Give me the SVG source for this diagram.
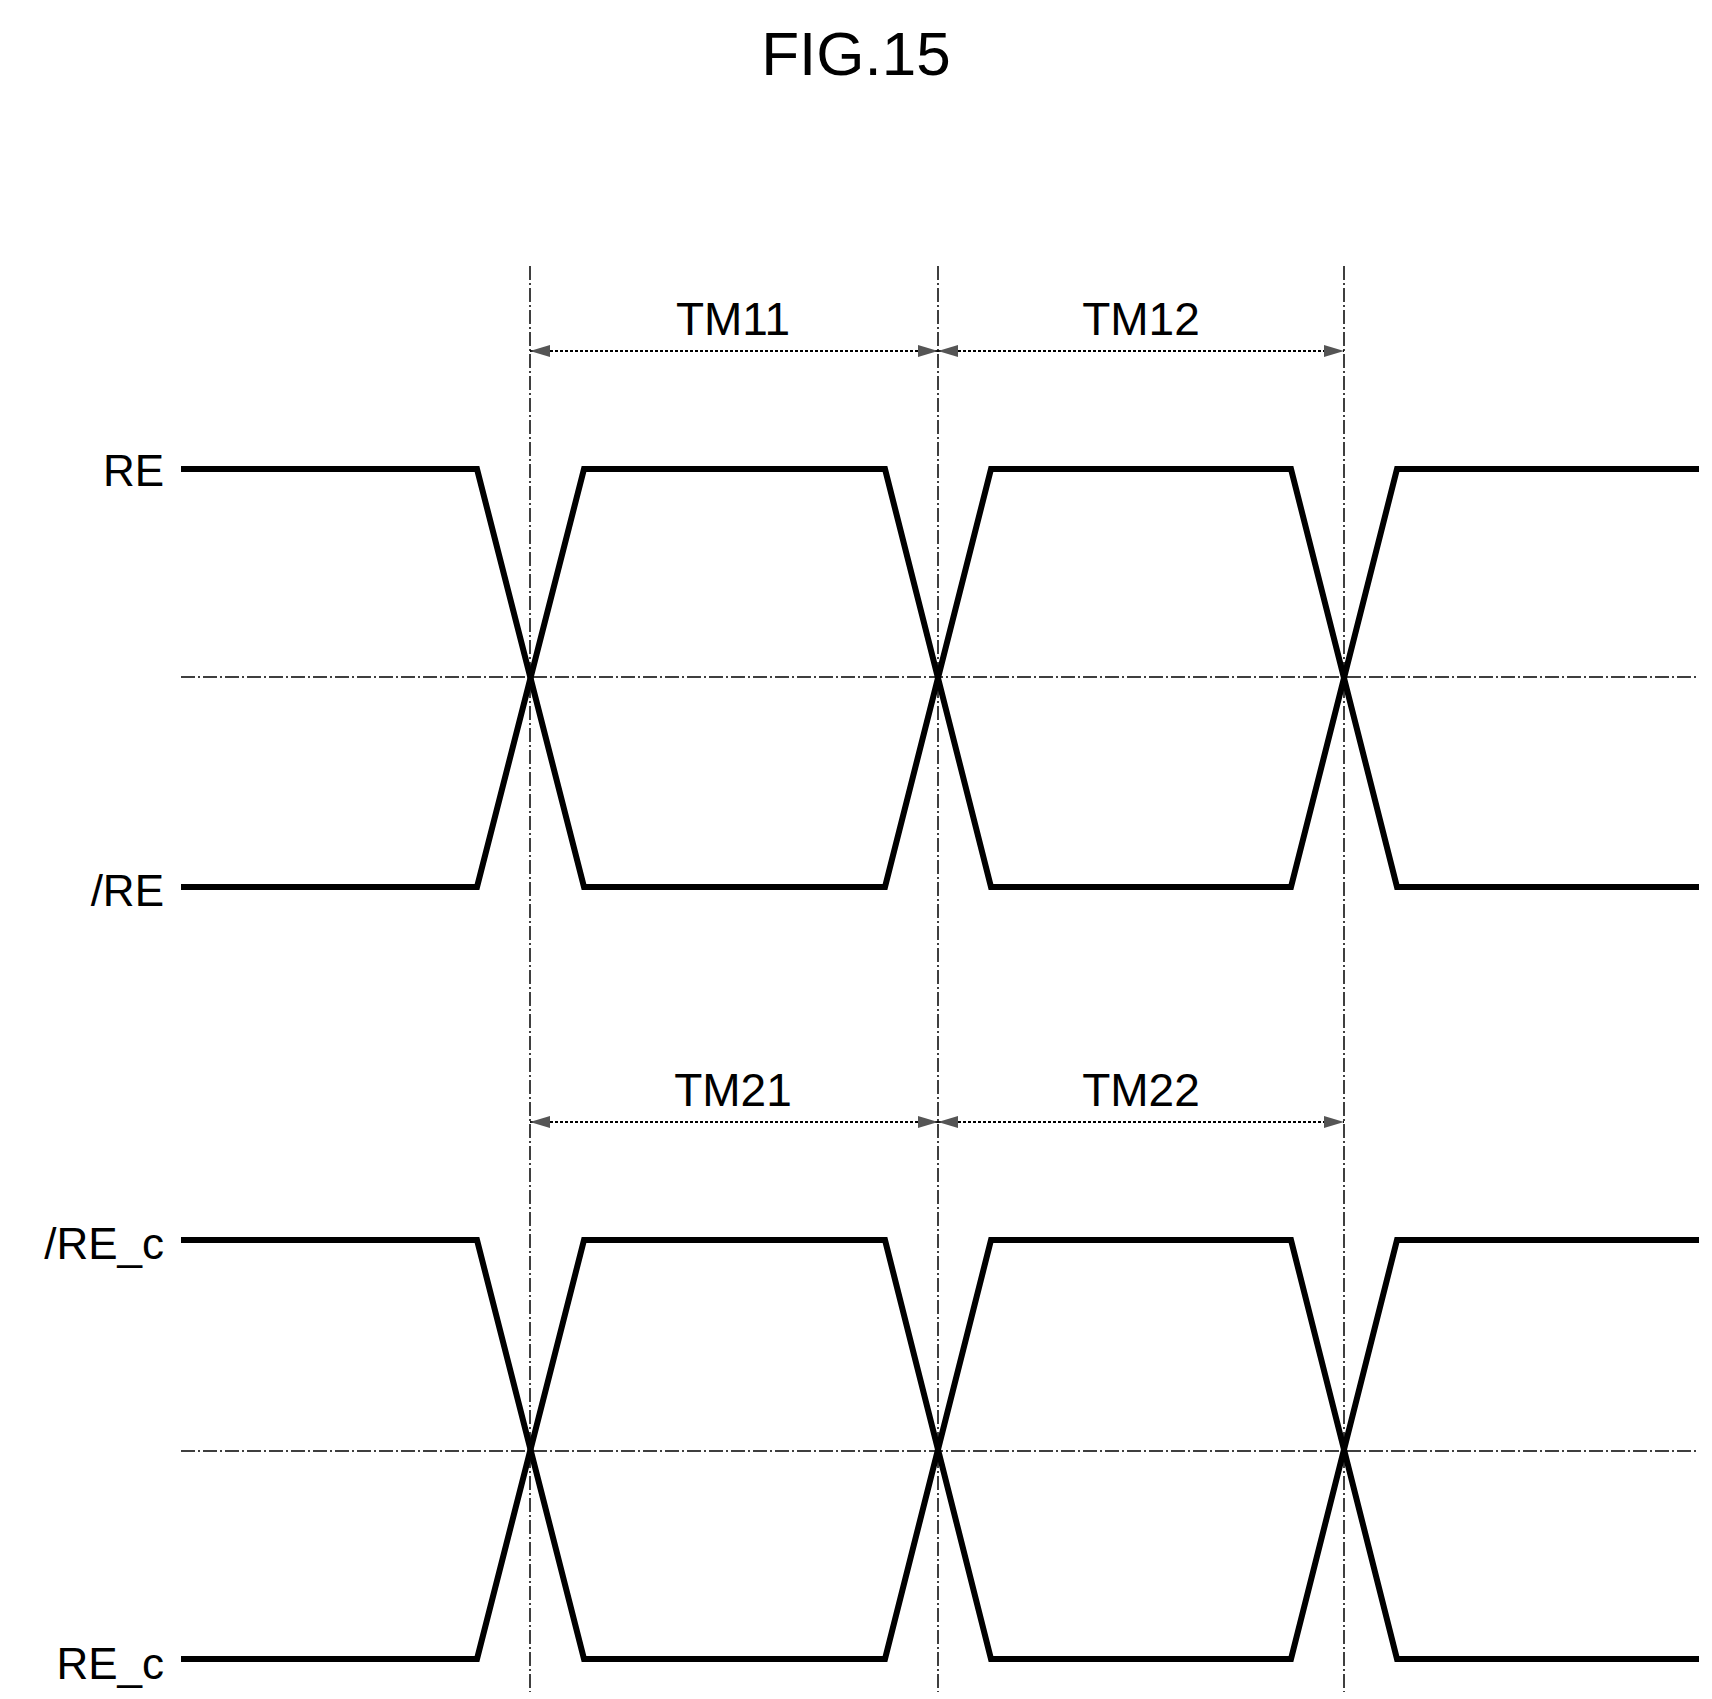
<svg xmlns="http://www.w3.org/2000/svg" width="1712" height="1699" viewBox="0 0 1712 1699">
<style>
.sig{fill:none;stroke:#000;stroke-width:6;stroke-linejoin:miter}
.ref{fill:none;stroke:#000;stroke-width:1.5;stroke-dasharray:14 3 2 3}
.dim{fill:none;stroke:#000;stroke-width:2;stroke-dasharray:3 2;marker-start:url(#a);marker-end:url(#a)}
text{font-family:"Liberation Sans",Arial,sans-serif;fill:#000}
.lbl{font-size:44px;text-anchor:end}
.tm{font-size:46px;text-anchor:middle}
</style>
<defs>
<marker id="a" viewBox="0 0 20 12" refX="20" refY="6" markerWidth="20" markerHeight="12" markerUnits="userSpaceOnUse" orient="auto-start-reverse">
<path d="M0,0 L20,6 L0,12 Z" fill="#555"/>
</marker>
</defs>
<rect width="1712" height="1699" fill="#fff"/>
<text x="856" y="75" font-size="62" text-anchor="middle">FIG.15</text>
<g id="refs">
<line class="ref" x1="530" y1="266" x2="530" y2="1692"/>
<line class="ref" x1="938" y1="266" x2="938" y2="1692"/>
<line class="ref" x1="1344" y1="266" x2="1344" y2="1692"/>
<line class="ref" x1="181" y1="677" x2="1699" y2="677"/>
<line class="ref" x1="181" y1="1451" x2="1699" y2="1451"/>
</g>
<g id="connectors">
<line class="dim" x1="530" y1="351" x2="938" y2="351"/>
<line class="dim" x1="938" y1="351" x2="1344" y2="351"/>
<line class="dim" x1="530" y1="1122" x2="938" y2="1122"/>
<line class="dim" x1="938" y1="1122" x2="1344" y2="1122"/>
</g>
<g id="labels">
<text class="tm" x="733" y="335">TM11</text>
<text class="tm" x="1141" y="335">TM12</text>
<text class="tm" x="733" y="1106">TM21</text>
<text class="tm" x="1141" y="1106">TM22</text>
<text class="lbl" x="164" y="486">RE</text>
<text class="lbl" x="164" y="906">/RE</text>
<text class="lbl" x="164" y="1259">/RE_c</text>
<text class="lbl" x="164" y="1679">RE_c</text>
</g>
<g id="RE"><polyline class="sig" points="181,469 477,469 584,887 885,887 991,469 1291,469 1397,887 1699,887" transform="translate(0,0)"/></g>
<g id="nRE"><polyline class="sig" points="181,887 477,887 584,469 885,469 991,887 1291,887 1397,469 1699,469"/></g>
<g id="nREc"><polyline class="sig" points="181,1240 477,1240 584,1659 885,1659 991,1240 1291,1240 1397,1659 1699,1659"/></g>
<g id="REc"><polyline class="sig" points="181,1659 477,1659 584,1240 885,1240 991,1659 1291,1659 1397,1240 1699,1240"/></g>
</svg>
